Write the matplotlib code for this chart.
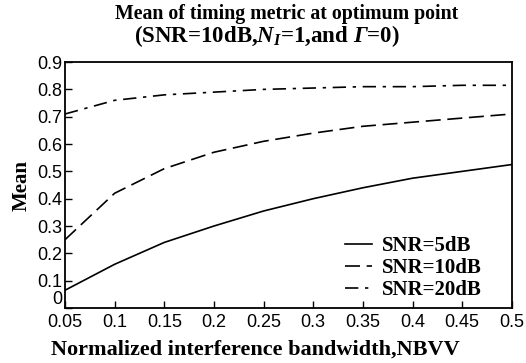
import matplotlib.pyplot as plt
import numpy as np

# Data
nbw = [0.05, 0.10, 0.15, 0.20, 0.25, 0.30, 0.35, 0.40, 0.45, 0.50]
mean_5db = [0.065, 0.16, 0.24, 0.30, 0.355, 0.40, 0.44, 0.475, 0.50, 0.525]
mean_10db = [0.25, 0.42, 0.51, 0.57, 0.61, 0.64, 0.665, 0.68, 0.695, 0.71]
mean_20db = [0.71, 0.76, 0.78, 0.79, 0.80, 0.805, 0.81, 0.81, 0.815, 0.815]

xticks = [0.05, 0.1, 0.15, 0.2, 0.25, 0.3, 0.35, 0.4, 0.45, 0.5]
xlabels = ['0.05', '0.1', '0.15', '0.2', '0.25', '0.3', '0.35', '0.4', '0.45', '0.5']
yticks = [0, 0.1, 0.2, 0.3, 0.4, 0.5, 0.6, 0.7, 0.8, 0.9]
ylabels = ['0', '0.1', '0.2', '0.3', '0.4', '0.5', '0.6', '0.7', '0.8', '0.9']

serif = ['Liberation Serif', 'DejaVu Serif']
sans = ['Liberation Sans', 'DejaVu Sans']

plt.rcParams['mathtext.fontset'] = 'custom'
plt.rcParams['mathtext.rm'] = 'Liberation Serif:bold'
plt.rcParams['mathtext.it'] = 'Liberation Serif:italic:bold'
plt.rcParams['mathtext.sf'] = 'Liberation Serif:italic:bold'
plt.rcParams['mathtext.bf'] = 'Liberation Serif:bold'

fig = plt.figure(figsize=(5.26, 3.63), dpi=100)
ax = fig.add_axes([0.1236, 0.1515, 0.8494, 0.6775])

ax.plot(nbw, mean_5db, color='k', linestyle='-', linewidth=1.2, label='SNR=5dB')
ax.plot(nbw, mean_10db, color='k', linestyle=(0, (9, 4)), linewidth=1.2, label='SNR=10dB')
ax.plot(nbw, mean_20db, color='k', linestyle=(0, (8, 4, 2, 4)), linewidth=1.2, label='SNR=20dB')

ax.set_xlim(0.05, 0.5)
ax.set_ylim(0, 0.9)
ax.set_xticks(xticks)
ax.set_yticks(yticks)
ax.set_xticklabels(xlabels, family=sans, fontsize=13)
ax.set_yticklabels(ylabels, family=sans, fontsize=13)
ax.get_yticklabels()[0].set_va('bottom')
ax.tick_params(direction='in', length=5, width=1)
ax.tick_params(axis='x', pad=4)
ax.tick_params(axis='y', pad=2)
for s in ax.spines.values():
    s.set_linewidth(1.3)

ax.set_xlabel('Normalized interference bandwidth,NBVV', family=serif,
              fontweight='bold', fontsize=16)
ax.xaxis.set_label_coords(0.425, -0.13)
ax.set_ylabel('Mean', family=serif, fontweight='bold', fontsize=15, labelpad=4)

fig.text(0.545, 0.962, 'Mean of timing metric at optimum point', family=serif,
         fontweight='bold', fontsize=14.3, ha='center', va='center')
fig.text(0.508, 0.900, r'(SNR=10dB,$\mathit{N_I}$=1,and $\mathsf{\Gamma}$=0)', family=serif,
         fontweight='bold', fontsize=16.5, ha='center', va='center')

leg = ax.legend(loc='lower right', bbox_to_anchor=(0.975, -0.045), frameon=False,
                handlelength=1.3, handletextpad=0.5, labelspacing=0.1,
                prop={'family': serif, 'weight': 'bold', 'size': 15})

fig.savefig('out.png', dpi=100)
